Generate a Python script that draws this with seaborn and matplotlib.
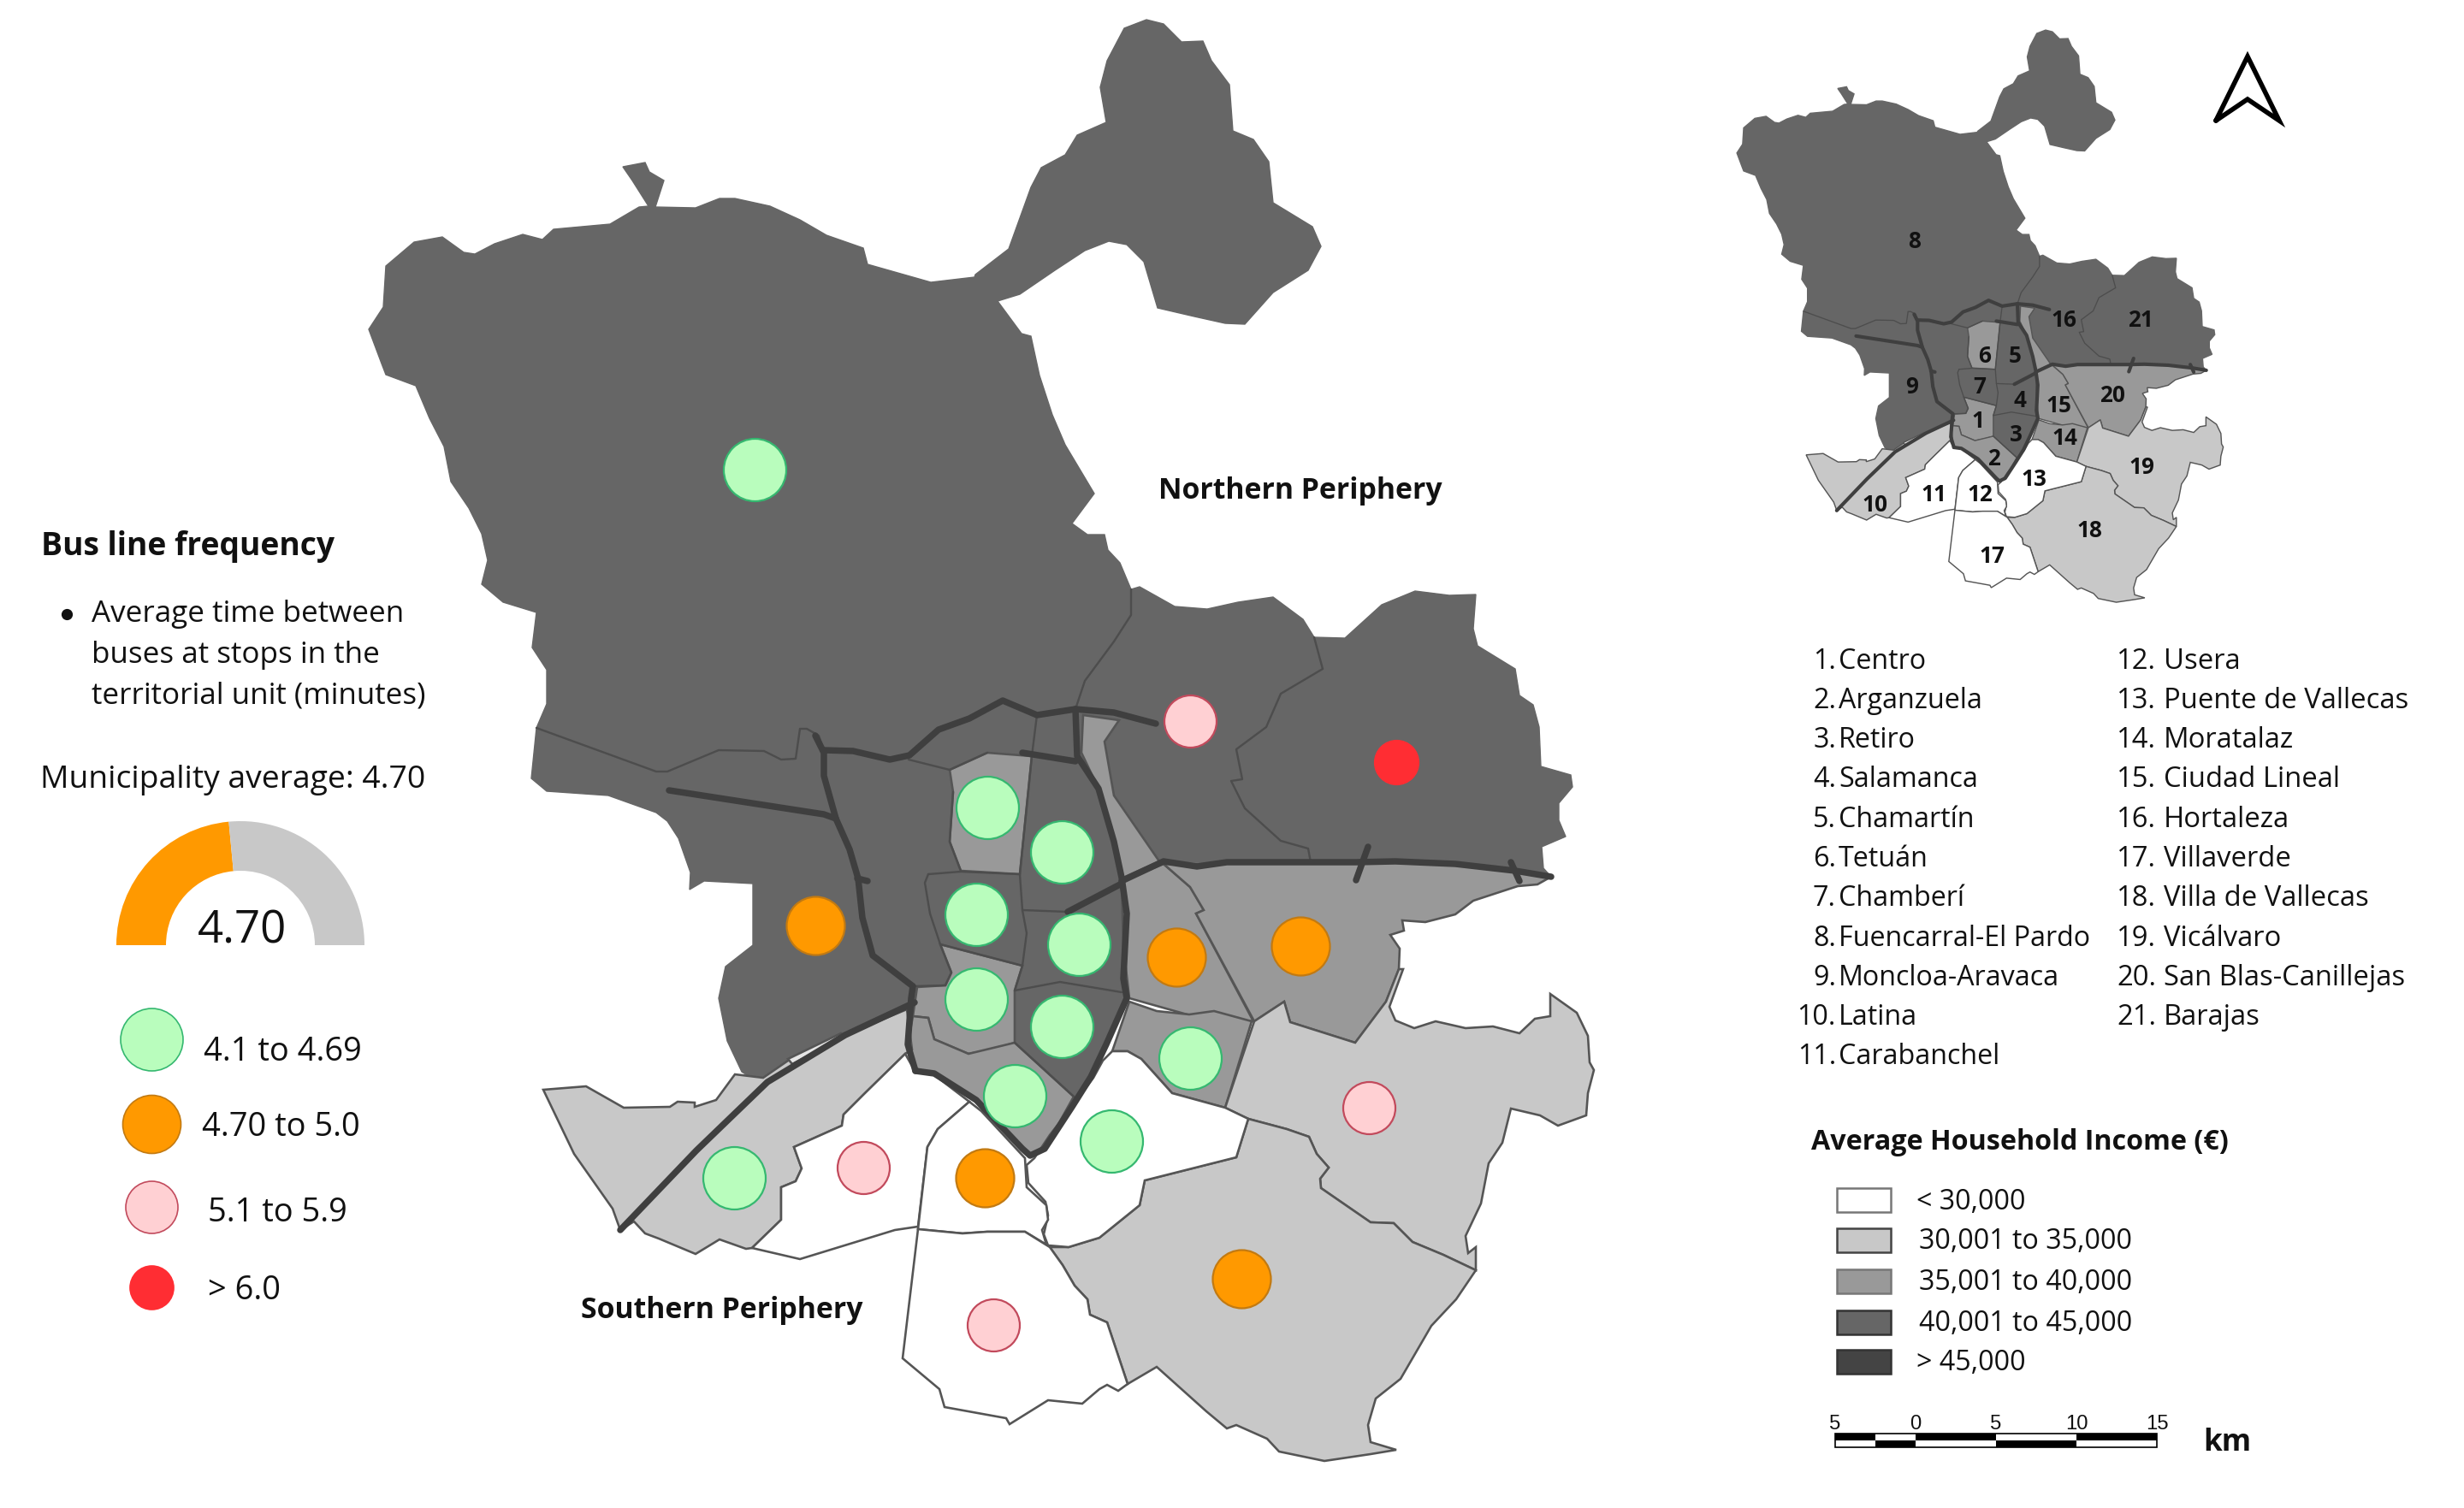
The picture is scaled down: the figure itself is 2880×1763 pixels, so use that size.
import numpy as np
import pandas as pd
import matplotlib.pyplot as plt
import seaborn as sns
from matplotlib.patches import Polygon, Rectangle, Wedge

# map outlines in image pixels
north_area = [(621,910),(627,851),(639,823),(639,783),(622,757),(627,716),(588,704),(563,683),(570,655),(563,624),
    (548,594),(527,563),(519,522),(502,489),(486,451),(451,438),(446,425),(431,385),(448,359),(451,311),(484,283),
    (517,277),(542,295),(555,297),(578,285),(611,274),(634,280),(647,268),(713,262),(747,242),(758,241),(739,211),
    (728,195),(754,190),(759,201),(776,211),(766,242),(813,243),(841,232),(859,232),(900,241),(935,257),(966,275),
    (1009,290),(1014,309),(1088,330),(1139,324),(1140,321),(1179,291),(1205,219),(1217,196),(1245,181),(1259,158),
    (1293,143),(1286,102),(1294,71),(1314,33),(1340,23),(1360,28),(1381,49),(1406,48),(1416,71),(1437,99),(1441,153),
    (1465,163),(1483,189),(1488,237),(1534,265),(1544,288),(1529,316),(1488,342),(1455,379),(1432,378),(1396,370),
    (1353,360),(1337,306),(1317,286),(1296,282),(1268,293),(1233,316),(1192,344),(1166,352),(1194,390),(1205,393),
    (1215,439),(1230,485),(1245,520),(1279,577),(1253,612),(1271,625),(1291,625),(1295,643),(1309,658),(1322,689),
    (1332,686),(1373,709),(1411,712),(1447,704),(1488,698),(1523,724),(1536,745),(1572,746),(1615,707),(1654,691),
    (1694,696),(1725,695),(1722,735),(1727,755),(1771,782),(1776,813),(1792,824),(1799,850),(1801,896),(1836,906),
    (1838,920),(1822,939),(1822,959),(1830,978),(1802,990),(1804,1015),(1813,1025),(1771,1018),(1701,1010),(1585,1008),
    (1360,1008),(1311,1030),(1317,1167),(1293,1221),(1253,1294),(1204,1351),(1141,1286),(1070,1252),(1061,1221),
    (1069,1172),(988,1210),(892,1269),(867,1253),(850,1217),(840,1167),(848,1130),(880,1105),(880,1033),(823,1030),
    (806,1040),(807,1020),(793,980),(780,960),(767,950),(711,930),(639,925)]
d6_tetuan = [(1154,880),(1206,884),(1192,1022),(1123,1018),(1110,984),(1114,926),(1110,900)]
d15_strip = [(1266,836),(1308,842),(1291,867),(1302,930),(1355,1007),(1313,1026),(1284,922),(1264,880)]
d1_centro = [(1099,1104),(1195,1129),(1186,1158),(1186,1219),(1159,1227),(1132,1232),(1092,1215),(1085,1190),
    (1067,1188),(1072,1154),(1105,1152),(1112,1137)]
d2_arganzuela = [(1067,1188),(1085,1190),(1092,1215),(1132,1232),(1186,1219),(1255,1282),(1221,1343),(1204,1351),
    (1195,1343),(1141,1286),(1092,1255),(1070,1252),(1061,1221)]
d15_ciudad_lineal = [(1311,1030),(1360,1010),(1391,1037),(1407,1064),(1398,1068),(1465,1194),(1391,1187),(1320,1167),(1313,1106)]
d20_san_blas = [(1360,1010),(1585,1008),(1701,1010),(1771,1018),(1813,1025),(1797,1034),(1774,1036),(1722,1053),
    (1701,1069),(1666,1078),(1639,1076),(1641,1088),(1625,1093),(1636,1109),(1635,1133),(1620,1171),(1584,1219),
    (1508,1195),(1501,1171),(1466,1194),(1398,1068),(1407,1064),(1391,1037)]
d14_moratalaz = [(1300,1229),(1320,1171),(1352,1182),(1390,1186),(1419,1182),(1463,1194),(1432,1295),(1370,1278),(1334,1238),(1318,1229)]
d19_vicalvaro = [(1466,1194),(1501,1171),(1508,1195),(1584,1219),(1620,1171),(1635,1133),(1640,1133),(1624,1177),
    (1631,1193),(1653,1202),(1678,1194),(1713,1202),(1745,1200),(1776,1208),(1794,1191),(1812,1188),(1812,1162),
    (1843,1184),(1856,1211),(1858,1242),(1863,1251),(1856,1278),(1854,1304),(1821,1316),(1800,1304),(1766,1296),
    (1756,1336),(1740,1360),(1731,1407),(1713,1445),(1716,1465),(1725,1458),(1725,1485),(1687,1467),(1651,1452),
    (1629,1430),(1602,1429),(1544,1389),(1543,1378),(1553,1365),(1539,1349),(1530,1329),(1504,1320),(1459,1308),(1432,1295)]
d18_villa_vallecas = [(1459,1308),(1504,1320),(1530,1329),(1539,1349),(1553,1365),(1543,1378),(1544,1389),(1602,1429),
    (1629,1430),(1651,1452),(1687,1467),(1725,1485),(1702,1519),(1673,1550),(1655,1581),(1637,1612),(1608,1635),
    (1599,1666),(1602,1686),(1632,1695),(1602,1700),(1548,1708),(1495,1697),(1481,1682),(1445,1666),(1434,1670),
    (1410,1650),(1352,1598),(1318,1618),(1294,1546),(1274,1537),(1271,1519),(1256,1503),(1242,1479),(1227,1458),
    (1249,1458),(1285,1447),(1332,1409),(1338,1380),(1445,1353)]
d13_puente = [(1300,1229),(1318,1229),(1334,1238),(1370,1278),(1432,1295),(1459,1308),(1445,1353),(1338,1380),
    (1332,1409),(1285,1447),(1249,1458),(1225,1456),(1220,1443),(1225,1421),(1222,1405),(1202,1383),(1200,1362),
    (1209,1354),(1227,1327),(1258,1287),(1278,1260),(1289,1240)]
d10_latina = [(635,1274),(685,1270),(729,1295),(783,1294),(792,1288),(812,1289),(812,1294),(837,1286),(859,1256),
    (892,1260),(921,1240),(993,1208),(1060,1180),(1066,1227),(1058,1232),(1011,1278),(986,1303),(984,1316),(928,1341),
    (937,1366),(930,1381),(913,1388),(913,1426),(879,1459),(872,1460),(841,1449),(813,1466),(770,1448),(754,1442),
    (741,1428),(725,1438),(716,1413),(671,1349)]
d11_carabanchel = [(1058,1232),(1067,1248),(1091,1256),(1133,1288),(1096,1320),(1084,1341),(1073,1434),(1046,1438),
    (935,1472),(879,1459),(913,1426),(913,1388),(930,1381),(937,1366),(928,1341),(984,1316),(986,1303),(1011,1278)]
d12_usera = [(1133,1288),(1147,1299),(1198,1354),(1200,1388),(1223,1409),(1225,1426),(1218,1438),(1223,1455),
    (1198,1440),(1154,1440),(1125,1442),(1073,1437),(1084,1341),(1096,1320)]
d17_villaverde = [(1073,1437),(1055,1588),(1098,1624),(1104,1645),(1176,1658),(1180,1665),(1225,1637),(1265,1641),
    (1285,1624),(1294,1619),(1307,1626),(1318,1618),(1294,1546),(1274,1537),(1271,1519),(1256,1503),(1242,1479),
    (1227,1458),(1198,1440),(1154,1440),(1125,1442)]
sliver_west = [(921,1238),(983,1208),(988,1211),(926,1244)]

# thin district borders
border_8_9 = [(627,851),(767,902),(780,902),(840,877),(893,878),(913,888),(930,887),(935,852),(943,852),(957,860),(962,875)]
border_8_16 = [(1322,689),(1322,719),(1302,750),(1268,796),(1257,829)]
border_16_21 = [(1536,745),(1546,782),(1497,811),(1480,850),(1445,876),(1452,911),(1439,913),(1455,945),(1497,983),(1529,992),(1532,1008)]
border_6_top = [(1062,888),(1110,900),(1154,880)]
border_5_6 = [(1212,836),(1206,884),(1192,1022),(1195,1064),(1200,1091),(1195,1129),(1186,1158)]
border_7 = [(1085,1022),(1123,1019),(1192,1022)]
border_7_left = [(1085,1022),(1081,1032),(1087,1068),(1099,1104),(1195,1129)]
border_4_5 = [(1195,1064),(1248,1066)]
border_3_4 = [(1186,1158),(1239,1148),(1311,1160)]
border_2_3 = [(1186,1219),(1255,1282)]
border_9_7 = [(1123,1018),(1110,984),(1114,926)]
border_9_1 = [(1067,1153),(1105,1152),(1112,1137),(1099,1104)]

# motorways
road_m40_spur = [(782,924),(963,952),(977,957)]
road_ring_west = [(953,860),(963,880),(963,907),(977,957),(993,993),(1003,1027),(1008,1073),(1020,1117),(1067,1153),(1065,1167),(1061,1221),(1070,1252)]
road_north = [(962,877),(997,878),(1040,888),(1063,883),(1097,853),(1133,840),(1172,819),(1212,836),(1257,829),(1302,833),(1351,846)]
road_m30_north = [(1195,880),(1257,890)]
road_m30_east = [(1257,829),(1259,884),(1284,922),(1302,984),(1311,1026),(1317,1068),(1313,1144),(1317,1167),(1293,1221),(1275,1259),(1253,1294),(1221,1343),(1204,1351),(1195,1343),(1141,1286),(1092,1255),(1070,1252)]
road_link_4_5 = [(1248,1066),(1311,1033)]
road_east = [(1311,1030),(1360,1007),(1399,1013),(1434,1008),(1532,1008),(1585,1008),(1631,1007),(1701,1010),(1771,1018),(1813,1025)]
road_spur_east = [(1599,990),(1585,1029)]
road_spur_far_east = [(1766,1008),(1776,1030)]
road_spur_ring = [(1002,1027),(1014,1030)]
road_southwest = [(725,1438),(814,1345),(897,1265),(988,1210),(1069,1172)]

# bus frequency by district
freq_x = [882,1154,1241,1141,1261,1141,1241,1186,1391,1299,858, 953,1375,1520,1151,1451, 1391,1600,1009,1161, 1632]
freq_y = [549,944,996,1069,1104,1168,1200,1281,1237,1334,1377, 1082,1119,1106,1377,1495, 843,1295,1365,1549, 891]
freq_band = ['green']*11 + ['orange']*5 + ['pink']*4 + ['red']

band_labels = ['4.1 to 4.69', '4.70 to 5.0', '5.1 to 5.9', '> 6.0']
band_names = ['green', 'orange', 'pink', 'red']
band_fill = ['#b9fdbd', '#ff9900', '#ffd0d3', '#ff2d33']
band_edge = ['#35b870', '#c27a12', '#c24a5c', '#ff2d33']
band_size = [73, 68, 61, 51]

gauge_value = 4.70
gauge_max = 10.0

district_names = ['Centro','Arganzuela','Retiro','Salamanca','Chamartín','Tetuán','Chamberí','Fuencarral-El Pardo',
    'Moncloa-Aravaca','Latina','Carabanchel','Usera','Puente de Vallecas','Moratalaz','Ciudad Lineal','Hortaleza',
    'Villaverde','Villa de Vallecas','Vicálvaro','San Blas-Canillejas','Barajas']
inset_label_x = [2312,2330,2356,2361,2355,2320,2314,2238,2235,2191,2260,2314,2377,2413,2406,2412,2328,2442,2503,2469,2502]
inset_label_y = [493,537,508,469,417,417,453,282,453,590,579,579,561,513,475,375,650,620,547,463,374]

income_labels = ['< 30,000','30,001 to 35,000','35,001 to 40,000','40,001 to 45,000','> 45,000']
income_fill = ['#ffffff','#c8c8c8','#999999','#666666','#444444']
income_edge = ['#777777','#444444','#777777','#333333','#333333']

scale_km = [-5, -2.5, 0, 5, 10, 15]
scale_labels = ['5', '0', '5', '10', '15']
scale_label_km = [-5, 0, 5, 10, 15]

DARK, MID, LIGHT = '#666666', '#999999', '#c8c8c8'
PX = 0.36  # points per image pixel at 200 dpi

sns.set_theme(style='white')
plt.rcParams['font.family'] = ['Open Sans', 'DejaVu Sans']

fig = plt.figure(figsize=(14.4, 8.815), dpi=200)
ax = fig.add_axes([0, 0, 1, 1])
ax.set_xlim(0, 2880)
ax.set_ylim(1763, 0)
ax.axis('off')


def draw_map(scale=1.0, dx=0.0, dy=0.0, k=1.0):
    def tr(pts):
        a = np.array(pts, dtype=float)
        return a * scale + [dx, dy]

    ax.add_patch(Polygon(tr(north_area), closed=True, fc=DARK, ec=DARK, lw=0.5))
    fills = [(d6_tetuan, MID), (d15_strip, MID), (d1_centro, MID), (d2_arganzuela, MID), (d15_ciudad_lineal, MID),
             (d20_san_blas, MID), (d14_moratalaz, MID), (d19_vicalvaro, LIGHT), (d18_villa_vallecas, LIGHT),
             (d10_latina, LIGHT), (d13_puente, 'white'), (d11_carabanchel, 'white'), (d12_usera, 'white'),
             (d17_villaverde, 'white'), (sliver_west, '#e6e6e6')]
    for pts, col in fills:
        ax.add_patch(Polygon(tr(pts), closed=True, fc=col, ec='#555555', lw=2.6 * PX * k))
    for line in [border_8_9, border_8_16, border_16_21, border_6_top, border_5_6, border_7, border_7_left,
                 border_4_5, border_3_4, border_2_3, border_9_7, border_9_1]:
        a = tr(line)
        ax.plot(a[:, 0], a[:, 1], color='#4d4d4d', lw=2.4 * PX * k, solid_capstyle='round')
    for line in [road_m40_spur, road_ring_west, road_north, road_m30_north, road_m30_east, road_link_4_5,
                 road_east, road_spur_east, road_spur_far_east, road_spur_ring, road_southwest]:
        a = tr(line)
        ax.plot(a[:, 0], a[:, 1], color='#3f3f3f', lw=7.5 * PX * k, solid_joinstyle='round', solid_capstyle='round')


draw_map()
draw_map(scale=0.397, dx=1859, dy=26, k=0.55)

# frequency circles on the map
freq = pd.DataFrame({'x': freq_x, 'y': freq_y, 'band': freq_band})
for name, fill, edge, size in zip(band_names, band_fill, band_edge, band_size):
    sns.scatterplot(data=freq[freq.band == name], x='x', y='y', color=fill, edgecolor=edge, linewidth=0.8,
                    s=(size * PX) ** 2, ax=ax, legend=False, zorder=5)
ax.set_xlim(0, 2880)
ax.set_ylim(1763, 0)
ax.axis('off')


def label(x, y, s, size, weight='normal', ha='left', color='#111111', **kw):
    ax.text(x, y, s, fontsize=size, fontweight=weight, ha=ha, va='center', color=color, zorder=8, **kw)


# left panel
label(48, 639, 'Bus line frequency', 13.4, 'bold')
ax.scatter([78], [718], s=14, color='#111111', zorder=8)
label(107, 718, 'Average time between', 12.6)
label(107, 766, 'buses at stops in the', 12.6)
label(107, 814, 'territorial unit (minutes)', 12.6)
label(47, 912, 'Municipality average: 4.70', 13.4)

# gauge
split = 180 - 180 * gauge_value / gauge_max
ax.add_patch(Wedge((281, 1105), 145, 180, 180 + (180 - split), width=58, fc='#ff9900', ec='none'))
ax.add_patch(Wedge((281, 1105), 145, 180 + (180 - split), 360, width=58, fc='#c8c8c8', ec='none'))
label(283, 1089, f'{gauge_value:.2f}', 19, ha='center')

# frequency legend
legend_y = [1215, 1314, 1411, 1505]
legend_text_x = [238, 236, 243, 243]
legend_text_y = [1230, 1318, 1418, 1509]
legend_df = pd.DataFrame({'x': [177] * 4, 'y': legend_y, 'band': band_names})
for name, fill, edge, size in zip(band_names, band_fill, band_edge, band_size):
    sns.scatterplot(data=legend_df[legend_df.band == name], x='x', y='y', color=fill, edgecolor=edge, linewidth=0.6,
                    s=(size * PX) ** 2, ax=ax, legend=False, zorder=5)
ax.set_xlim(0, 2880)
ax.set_ylim(1763, 0)
ax.axis('off')
for tx, ty, s in zip(legend_text_x, legend_text_y, band_labels):
    label(tx, ty, s, 13.7)

# periphery labels
label(1354, 574, 'Northern Periphery', 12.2, 'bold')
label(679, 1532, 'Southern Periphery', 12.2, 'bold')

# inset numbers
for i, (lx, ly) in enumerate(zip(inset_label_x, inset_label_y)):
    label(lx, ly, str(i + 1), 9.4, 'bold', ha='center')

# north arrow
ax.plot([2590, 2627, 2664, 2627, 2590], [141, 66, 141, 116, 141], color='black', lw=2.0, solid_joinstyle='miter')

# district list
for i, name in enumerate(district_names):
    row_y = 773 + 46.3 * (i if i < 11 else i - 11)
    if i < 11:
        label(2146, row_y, f'{i + 1}.', 11.6, ha='right')
        label(2149, row_y, name, 11.6)
    else:
        label(2474, row_y, f'{i + 1}.', 11.8)
        label(2529, row_y, name, 11.8)

# income legend
label(2117, 1336, 'Average Household Income (€)', 11.6, 'bold')
income_y = [1403, 1450, 1498, 1546, 1592]
income_text_x = [2240, 2243, 2243, 2243, 2240]
for fill, edge, s, y, tx in zip(income_fill, income_edge, income_labels, income_y, income_text_x):
    ax.add_patch(Rectangle((2147, y - 14), 63, 28, fc=fill, ec=edge, lw=0.9))
    label(tx, y + 2, s, 11.6)

# scale bar
km_x = lambda km: 2145 + (km + 5) * 18.8
for j in range(len(scale_km) - 1):
    left, right = km_x(scale_km[j]), km_x(scale_km[j + 1])
    top_col = 'black' if j % 2 == 0 else 'white'
    low_col = 'white' if j % 2 == 0 else 'black'
    ax.add_patch(Rectangle((left, 1676), right - left, 8, fc=top_col, ec='none', zorder=6))
    ax.add_patch(Rectangle((left, 1684), right - left, 8, fc=low_col, ec='none', zorder=6))
ax.add_patch(Rectangle((km_x(-5), 1676), km_x(15) - km_x(-5), 16, fc='none', ec='black', lw=0.6, zorder=7))
for km, s in zip(scale_label_km, scale_labels):
    ax.text(km_x(km), 1665, s, fontsize=8.6, ha='center', va='center', family='Liberation Sans', color='#111111', zorder=8)
label(2575, 1687, 'km', 12.6, 'bold')

fig.savefig('out.png', dpi=200)
